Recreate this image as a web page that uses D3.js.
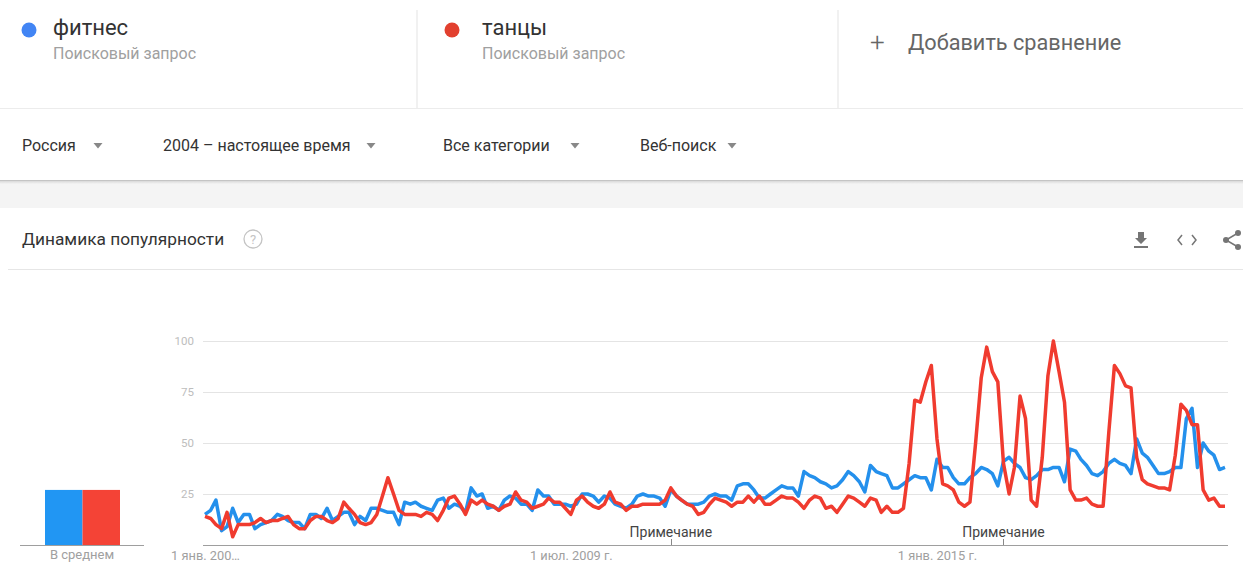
<!DOCTYPE html>
<html>
<head>
<meta charset="utf-8">
<script src="https://cdn.jsdelivr.net/npm/d3@7"></script>
<style>
  body { margin: 0; background: #fff; }
  svg { display: block; font-family: Roboto, "Noto Sans", sans-serif; }
</style>
</head>
<body>
<div id="chart-area"></div>
<script>

// data (monthly, Jan 2004 - May 2019)
let fitness = [
	15, 17, 22, 7, 9, 18, 11, 15, 15, 8, 10, 11,
	12, 15, 14, 12, 11, 11, 8, 15, 15, 13, 18, 12,
	14, 16, 16, 10, 14, 12, 18, 18, 17, 16, 16, 10,
	21, 20, 21, 19, 18, 17, 22, 23, 18, 20, 19, 16,
	28, 24, 25, 18, 19, 17, 22, 24, 23, 20, 20, 17,
	27, 24, 24, 20, 20, 20, 19, 20, 25, 25, 24, 21,
	24, 23, 20, 19, 18, 20, 24, 25, 24, 24, 23, 19,
	27, 24, 22, 20, 20, 20, 21, 24, 25, 24, 24, 22,
	29, 30, 30, 27, 23, 23, 25, 27, 29, 28, 28, 24,
	36, 34, 33, 31, 30, 28, 29, 32, 36, 34, 31, 26,
	39, 36, 35, 34, 28, 28, 30, 32, 34, 33, 33, 27,
	42, 38, 38, 33, 30, 30, 33, 35, 38, 37, 35, 29,
	41, 43, 40, 38, 33, 32, 34, 37, 37, 38, 38, 31,
	47, 46, 42, 39, 35, 34, 36, 40, 42, 40, 39, 35,
	52, 45, 43, 39, 35, 35, 36, 38, 38, 62, 67, 38,
	50, 46, 44, 37, 38
];

let dance = [
	14, 13, 10, 8, 16, 4, 10, 10, 10, 11, 13, 11,
	12, 12, 13, 14, 10, 8, 8, 12, 14, 14, 12, 11,
	13, 21, 18, 15, 11, 10, 11, 15, 24, 33, 25, 17,
	15, 15, 15, 14, 16, 15, 12, 17, 23, 24, 20, 15,
	22, 20, 22, 20, 19, 17, 19, 20, 26, 22, 21, 18,
	19, 20, 23, 21, 21, 18, 15, 22, 24, 21, 19, 18,
	20, 26, 21, 20, 17, 19, 19, 20, 20, 20, 20, 22,
	28, 24, 22, 20, 19, 15, 16, 20, 23, 22, 21, 19,
	21, 21, 24, 21, 24, 20, 20, 22, 24, 23, 23, 21,
	18, 22, 24, 23, 18, 19, 16, 20, 24, 23, 21, 19,
	23, 22, 16, 19, 16, 16, 18, 40, 71, 70, 80, 88,
	52, 30, 29, 27, 21, 19, 21, 50, 82, 97, 85, 80,
	40, 25, 38, 73, 62, 22, 19, 43, 83, 100, 85, 70,
	27, 22, 22, 23, 20, 19, 19, 55, 88, 84, 78, 77,
	43, 32, 30, 29, 28, 28, 27, 44, 69, 66, 59, 59,
	27, 22, 23, 19, 19
];

let months = d3.timeMonth.range(new Date(2004, 0, 1), new Date(2019, 5, 1));

let terms = ["фитнес", "танцы"];
let averages = [27, 27];
let yTicks = [25, 50, 75, 100];
let xTickDates = [new Date(2004, 0, 1), new Date(2009, 6, 1), new Date(2015, 0, 1)];
let xTickLabels = ["1 янв. 200…", "1 июл. 2009 г.", "1 янв. 2015 г."];
let noteDates = [new Date(2011, 0, 1), new Date(2016, 0, 1)];
let filters = ["Россия", "2004 – настоящее время", "Все категории", "Веб-поиск"];

let lineColors = ["#2490ec", "#f03b2f"];
let dotColors = ["#4285f4", "#e2402f"];

let W = 1243, H = 563;

let svg = d3.select("#chart-area").append("svg")
	.attr("width", W)
	.attr("height", H);

// ---------- header: search terms ----------
let dotX = [29, 452];
let termX = [53, 482];
terms.forEach((t, i) => {
	svg.append("circle").attr("cx", dotX[i]).attr("cy", 30).attr("r", 7.5).attr("fill", dotColors[i]);
	svg.append("text").attr("x", termX[i]).attr("y", 35)
		.attr("font-size", 22).attr("fill", "#333").text(t);
	svg.append("text").attr("x", termX[i]).attr("y", 59)
		.attr("font-size", 16).attr("fill", "#a0a0a0").text("Поисковый запрос");
});

[417, 838].forEach(x => {
	svg.append("line").attr("x1", x).attr("x2", x).attr("y1", 10).attr("y2", 108)
		.attr("stroke", "#e3e3e3");
});
svg.append("line").attr("x1", 0).attr("x2", W).attr("y1", 108.5).attr("y2", 108.5).attr("stroke", "#ececec");

svg.append("text").attr("x", 870).attr("y", 51).attr("font-size", 26).attr("font-weight", 300)
	.attr("fill", "#666").text("+");
svg.append("text").attr("x", 908).attr("y", 50).attr("font-size", 21.7)
	.attr("fill", "#666").text("Добавить сравнение");

// ---------- filter row ----------
let filterX = [22, 163, 443, 640];
let arrowX = [98, 371, 575, 732];
let fRow = svg.append("g");
filters.forEach((f, i) => {
	fRow.append("text").attr("x", filterX[i]).attr("y", 151)
		.attr("font-size", 16).attr("fill", "#333").text(f);
	let ax = arrowX[i];
	fRow.append("path")
		.attr("d", `M${ax - 4.5},143 L${ax + 4.5},143 L${ax},148.5 Z`)
		.attr("fill", "#888");
});

// shadow band
let defs = svg.append("defs");
let grad = defs.append("linearGradient").attr("id", "shadow").attr("x1", 0).attr("x2", 0).attr("y1", 0).attr("y2", 1);
grad.append("stop").attr("offset", "0%").attr("stop-color", "#cfcfcf");
grad.append("stop").attr("offset", "100%").attr("stop-color", "#f4f4f4");
svg.append("rect").attr("x", 0).attr("y", 180).attr("width", W).attr("height", 28).attr("fill", "#f4f4f4");
svg.append("rect").attr("x", 0).attr("y", 180).attr("width", W).attr("height", 4).attr("fill", "url(#shadow)");
svg.append("line").attr("x1", 0).attr("x2", W).attr("y1", 180.5).attr("y2", 180.5).attr("stroke", "#c4c4c4");

// ---------- card title ----------
svg.append("text").attr("x", 22).attr("y", 245).attr("font-size", 17.3).attr("fill", "#333")
	.text("Динамика популярности");
svg.append("circle").attr("cx", 253).attr("cy", 239).attr("r", 9).attr("fill", "none")
	.attr("stroke", "#c4c4c4").attr("stroke-width", 1.3);
svg.append("text").attr("x", 253).attr("y", 244).attr("text-anchor", "middle").attr("font-size", 13)
	.attr("fill", "#c4c4c4").text("?");

// icons
let icons = svg.append("g").attr("fill", "#757575").attr("stroke", "#757575");
icons.append("path").attr("d", "M1138,232 L1144,232 L1144,238 L1147,238 L1141,244 L1135,238 L1138,238 Z").attr("stroke", "none");
icons.append("rect").attr("x", 1134).attr("y", 246).attr("width", 14).attr("height", 2).attr("stroke", "none");
icons.append("path").attr("d", "M1182,235 L1178,240 L1182,245 M1192,235 L1196,240 L1192,245")
	.attr("fill", "none").attr("stroke-width", 1.5);
icons.append("path").attr("d", "M1238,233 L1226,240 L1238,247").attr("fill", "none").attr("stroke-width", 1.5);
[[1238, 233], [1226, 240], [1238, 247]].forEach(p => {
	icons.append("circle").attr("cx", p[0]).attr("cy", p[1]).attr("r", 3).attr("stroke", "none");
});
svg.append("line").attr("x1", 8).attr("x2", W).attr("y1", 269.5).attr("y2", 269.5).attr("stroke", "#e6e6e6");

// ---------- scales ----------
let y = d3.scaleLinear().domain([0, 100]).range([545, 341]);
let x = d3.scaleTime().domain([months[0], months[months.length - 1]]).range([205, 1225]);

// gridlines
svg.append("g").selectAll("line").data(yTicks).enter().append("line")
	.attr("x1", 203).attr("x2", 1228)
	.attr("y1", d => Math.round(y(d)) + 0.5).attr("y2", d => Math.round(y(d)) + 0.5)
	.attr("stroke", "#e4e4e4");

let yAxis = d3.axisLeft(y).tickValues(yTicks).tickSize(0).tickPadding(0);
svg.append("g").attr("class", "y-axis").attr("transform", "translate(194,0)")
	.call(yAxis)
	.call(g => g.select(".domain").remove())
	.selectAll("text").attr("font-size", 11.5).attr("fill", "#bdbdbd").attr("font-family", "Roboto, sans-serif");

// baseline
svg.append("line").attr("x1", 203).attr("x2", 1228).attr("y1", 545.5).attr("y2", 545.5)
	.attr("stroke", "#9e9e9e");

let xAxis = d3.axisBottom(x).tickValues(xTickDates).tickSize(0).tickPadding(5)
	.tickFormat((d, i) => xTickLabels[i]);
svg.append("g").attr("class", "x-axis").attr("transform", "translate(0,546)")
	.call(xAxis)
	.call(g => g.select(".domain").remove())
	.selectAll("text").attr("font-size", 12.8).attr("fill", "#a0a0a0").attr("font-family", "Roboto, sans-serif");

// notes
let notes = svg.append("g");
noteDates.forEach(d => {
	notes.append("line").attr("x1", Math.round(x(d)) + 0.5).attr("x2", Math.round(x(d)) + 0.5)
		.attr("y1", 539).attr("y2", 545).attr("stroke", "#888");
	notes.append("text").attr("x", x(d)).attr("y", 537).attr("text-anchor", "middle")
		.attr("font-size", 14).attr("fill", "#444").text("Примечание");
});

// lines
let series = [fitness, dance];
const line = d3.line()
	.x((d, i) => x(months[i]))
	.y(d => y(d));

series.forEach((s, k) => {
	svg.append("path").datum(s).attr("d", line)
		.attr("fill", "none").attr("stroke", lineColors[k])
		.attr("stroke-width", 3.5).attr("stroke-linejoin", "round");
});

// ---------- average bars ----------
let xb = d3.scaleBand().domain(terms).range([45, 120]).padding(0);
svg.append("g").selectAll("rect").data(averages).enter().append("rect")
	.attr("x", (d, i) => xb(terms[i]))
	.attr("width", xb.bandwidth())
	.attr("y", d => y(d))
	.attr("height", d => y(0) - y(d))
	.attr("fill", (d, i) => ["#2196f3", "#f44336"][i]);
svg.append("line").attr("x1", 20).attr("x2", 144).attr("y1", 545.5).attr("y2", 545.5).attr("stroke", "#9e9e9e");
svg.append("text").attr("x", 82).attr("y", 559).attr("text-anchor", "middle")
	.attr("font-size", 13).attr("fill", "#a0a0a0").text("В среднем");

</script>
</body>
</html>
